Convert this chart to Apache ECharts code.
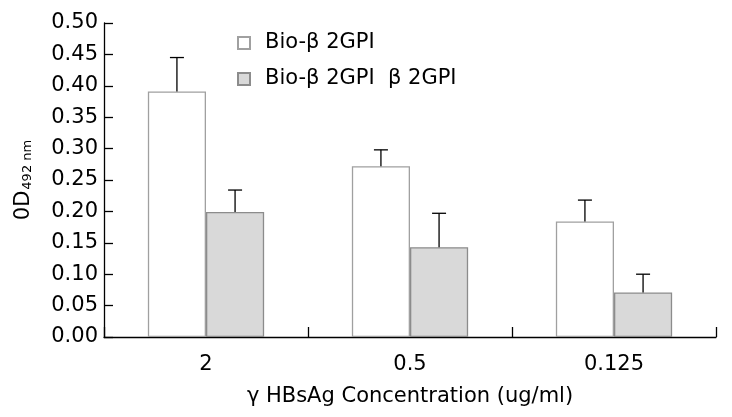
<!DOCTYPE html>
<html>
<head>
<meta charset="utf-8">
<script src="https://cdn.jsdelivr.net/npm/echarts@6/dist/echarts.min.js"></script>
<style>html,body{margin:0;padding:0;background:#fff}#c{width:732px;height:417px}</style>
</head>
<body>
<div id="c"></div>
<script>
const categories = ['2', '0.5', '0.125'];
const seriesNames = ['Bio-β 2GPI', 'Bio-β 2GPI  β 2GPI'];
const bioMeans = [0.391, 0.272, 0.184];
const bioErrors = [0.054, 0.026, 0.034];
const mixMeans = [0.199, 0.143, 0.071];
const mixErrors = [0.035, 0.054, 0.029];
const yTicks = [0, 0.05, 0.1, 0.15, 0.2, 0.25, 0.3, 0.35, 0.4, 0.45, 0.5];

const FONT = 'DejaVu Sans';
const BAR_FRAC = 0.285;

function errSeries(means, errs, dir) {
  return {
    type: 'custom',
    name: 'err' + dir,
    z: 5,
    silent: true,
    data: means.map((m, i) => [i, m, errs[i]]),
    renderItem: function (params, api) {
      const i = api.value(0), m = api.value(1), e = api.value(2);
      const base = api.coord([i, m]);
      const top = api.coord([i, m + e]);
      const band = api.size([1, 0])[0];
      const cx = base[0] + dir * band * BAR_FRAC / 2;
      const half = 7;
      const st = { stroke: '#000', lineWidth: 1.3 };
      return {
        type: 'group',
        children: [
          { type: 'line', shape: { x1: cx, y1: base[1], x2: cx, y2: top[1] }, style: st },
          { type: 'line', shape: { x1: cx - half, y1: top[1], x2: cx + half, y2: top[1] }, style: st }
        ]
      };
    }
  };
}

const chart = echarts.init(document.getElementById('c'), null, { renderer: 'canvas' });
chart.setOption({
  animation: false,
  backgroundColor: '#fff',
  textStyle: { fontFamily: FONT },
  grid: { left: 104, right: 16, top: 23, bottom: 80, containLabel: false },
  legend: {
    orient: 'vertical',
    left: 237,
    top: 31,
    padding: 0,
    data: seriesNames,
    icon: 'rect',
    itemWidth: 12,
    itemHeight: 12,
    itemGap: 12,
    textStyle: { fontFamily: FONT, fontSize: 21, color: '#000', lineHeight: 24, padding: [0, 0, 0, 10] }
  },
  xAxis: {
    type: 'category',
    data: categories,
    boundaryGap: true,
    name: 'γ HBsAg Concentration (ug/ml)',
    nameLocation: 'middle',
    nameGap: 49,
    nameTextStyle: { fontFamily: FONT, fontSize: 21, color: '#000' },
    axisLine: { show: true, lineStyle: { color: '#000', width: 1.3 } },
    axisTick: { show: true, inside: true, length: 10, alignWithLabel: false, lineStyle: { color: '#000', width: 1.3 } },
    axisLabel: { fontFamily: FONT, fontSize: 21, color: '#000', margin: 17 },
    splitLine: { show: false }
  },
  yAxis: {
    type: 'value',
    min: 0,
    max: 0.5,
    interval: 0.05,
    name: '0D{sub|492 nm}',
    nameLocation: 'middle',
    nameGap: 70,
    nameRotate: 90,
    nameTextStyle: {
      fontFamily: FONT, fontSize: 21, color: '#000',
      rich: { sub: { fontFamily: FONT, fontSize: 13, color: '#000', padding: [8, 0, 0, 1] } }
    },
    axisLine: { show: true, lineStyle: { color: '#000', width: 1.3 } },
    axisTick: { show: true, inside: true, length: 9, lineStyle: { color: '#000', width: 1.3 } },
    axisLabel: {
      fontFamily: FONT, fontSize: 21, color: '#000', margin: 6,
      formatter: v => yTicks.some(t => Math.abs(t - v) < 1e-9) ? v.toFixed(2) : ''
    },
    splitLine: { show: false }
  },
  series: [
    {
      type: 'bar',
      name: seriesNames[0],
      data: bioMeans,
      barWidth: (BAR_FRAC * 100) + '%',
      barGap: '0%',
      itemStyle: { color: '#ffffff', borderColor: '#a0a0a0', borderWidth: 1.3 }
    },
    {
      type: 'bar',
      name: seriesNames[1],
      data: mixMeans,
      barWidth: (BAR_FRAC * 100) + '%',
      barGap: '0%',
      itemStyle: { color: '#d9d9d9', borderColor: '#8c8c8c', borderWidth: 1.3 }
    },
    errSeries(bioMeans, bioErrors, -1),
    errSeries(mixMeans, mixErrors, 1)
  ]
});
</script>
</body>
</html>
